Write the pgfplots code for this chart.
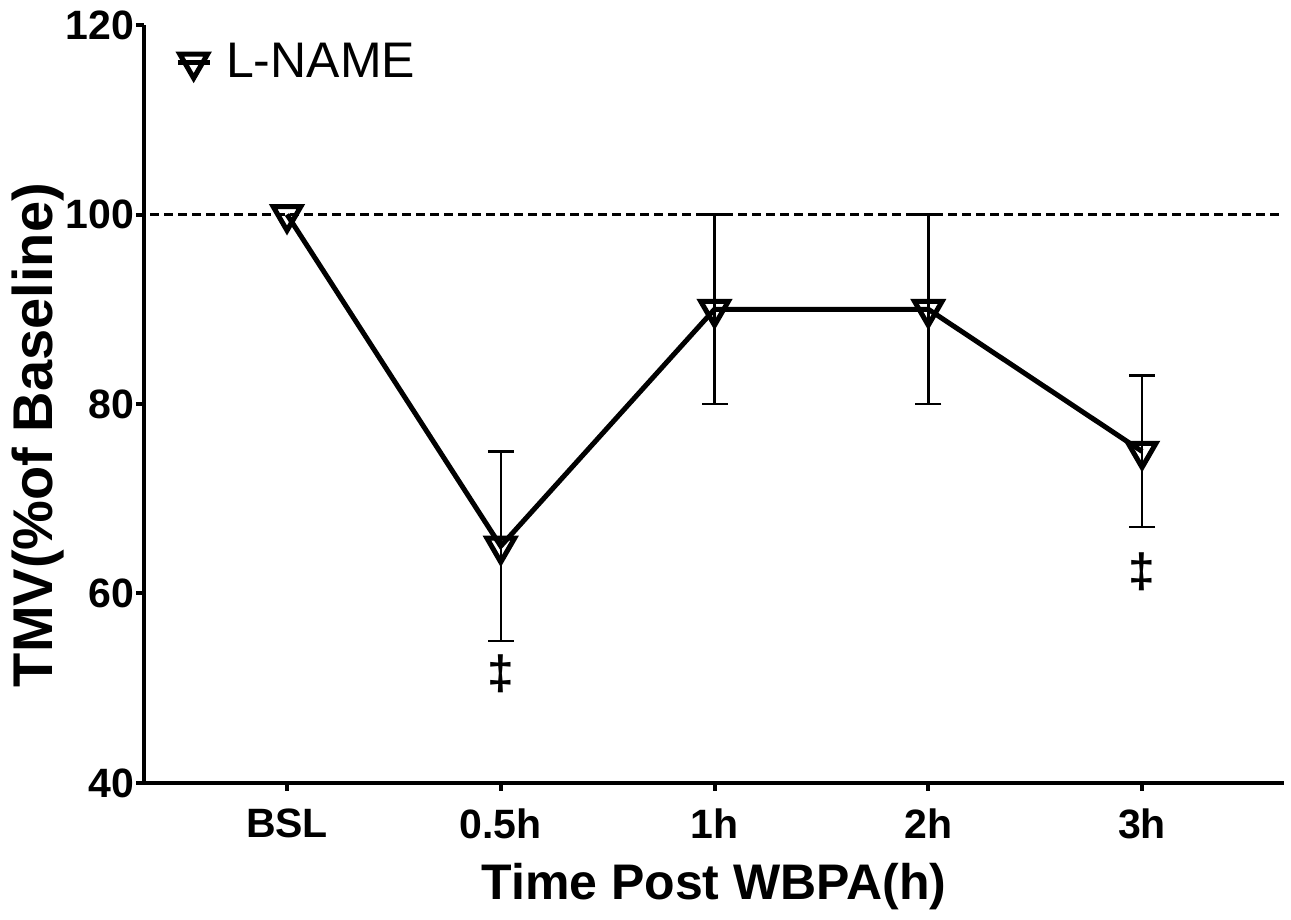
\documentclass[border=0pt]{standalone}
\usepackage{pgfplots}
\pgfplotsset{compat=1.18}
\usepackage{fontspec}
\setmainfont{Liberation Sans}
\begin{document}
\begin{tikzpicture}
\useasboundingbox (-72pt,-68.5pt) rectangle (573.5pt,391.5pt);
\begin{axis}[
  at={(0pt,0pt)}, anchor=south west,
  scale only axis, width=570pt, height=379pt,
  xmin=-0.669, xmax=4.664, ymin=40, ymax=120,
  axis x line*=bottom, axis y line*=left,
  axis line style={line width=2pt, -},
  xtick={0,1,2,3,4}, xticklabels={BSL,0.5h,1h,2h,3h},
  ytick={40,60,80,100,120},
  tick align=outside, major tick length=4pt,
  tick style={line width=2pt, black},
  /pgf/number format/assume math mode=true,
  ticklabel style={font=\bfseries\fontsize{20.5}{20.5}\selectfont},
  xticklabel style={yshift=-5.5pt},
  yticklabel style={xshift=2.5pt},
  xlabel={Time Post WBPA(h)}, ylabel={TMV(\%of Baseline)},
  xlabel style={font=\bfseries\fontsize{25}{25}\selectfont, at={(axis description cs:0.5,-0.137)}, anchor=center},
  ylabel style={font=\bfseries\fontsize{28}{28}\selectfont, at={(axis description cs:-0.093,0.459)}, anchor=center},
  legend style={draw=none, fill=none, at={(axis description cs:0.027,0.951)}, anchor=west,
    font=\fontsize{25}{25}\selectfont, inner sep=0pt, legend cell align=left},
  legend image code/.code={
    \draw[#1, mark repeat=2, mark phase=2] plot coordinates {(0pt,0pt)(8pt,0pt)(16pt,0pt)};
  },
  clip=false,
]
\addplot[forget plot, black, line width=1.5pt, dash pattern=on 4.5pt off 2.5pt]
  coordinates {(-0.64,100) (4.664,100)};
\addplot[forget plot, draw=none, mark=none,
  error bars/.cd, y dir=both, y explicit,
  error bar style={line width=1.25pt, black},
  error mark options={rotate=90, mark size=6.5pt, line width=1.25pt, black}]
  coordinates {(1,65) +- (0,10) (2,90) +- (0,10) (3,90) +- (0,10) (4,75) +- (0,8)};
\addplot[black, line width=2.5pt, mark=triangle, mark size=8pt,
  mark options={rotate=180, line width=2.5pt, solid}]
  coordinates {(0,100) (1,65) (2,90) (3,90) (4,75)};
\addlegendentry{\hspace{5pt}L-NAME}
\node[font=\bfseries\fontsize{24}{24}\selectfont] at (axis cs:1,51.5) {‡};
\node[font=\bfseries\fontsize{24}{24}\selectfont] at (axis cs:4,62.3) {‡};
\end{axis}
\end{tikzpicture}
\end{document}
